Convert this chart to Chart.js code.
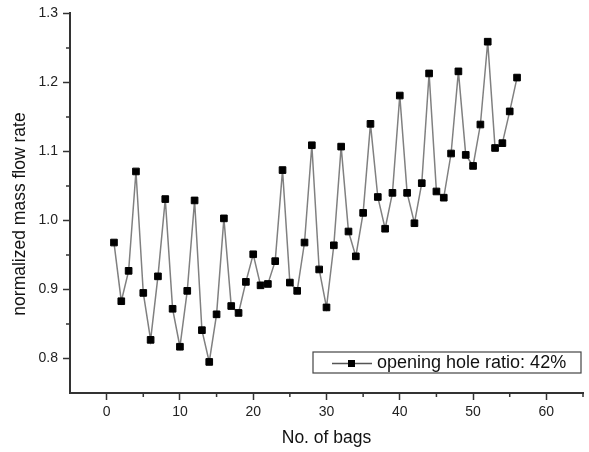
<!DOCTYPE html>
<html>
<head>
<meta charset="utf-8">
<script src="https://cdn.jsdelivr.net/npm/chart.js@4"></script>
<style>
  html, body { margin: 0; padding: 0; background: #fff; }
  #wrap { width: 589px; height: 452px; }
</style>
</head>
<body>
<div id="wrap"><canvas id="flow" width="589" height="452"></canvas></div>
<script>
// bag number and normalized mass flow rate
bags = [];
for (let i = 1; i <= 56; i++) bags.push(i);
flowRate = [
  0.968, 0.883, 0.927, 1.071, 0.895, 0.827, 0.919, 1.031, 0.872, 0.817,
  0.898, 1.029, 0.841, 0.795, 0.864, 1.003, 0.876, 0.866, 0.911, 0.951,
  0.906, 0.908, 0.941, 1.073, 0.910, 0.898, 0.968, 1.109, 0.929, 0.874,
  0.964, 1.107, 0.984, 0.948, 1.011, 1.140, 1.034, 0.988, 1.040, 1.181,
  1.040, 0.996, 1.054, 1.213, 1.042, 1.033, 1.097, 1.216, 1.095, 1.079,
  1.139, 1.259, 1.105, 1.112, 1.158, 1.207
];
seriesLabel = 'opening hole ratio: 42%';
yTitle = 'normalized mass flow rate';

points = bags.map((b, i) => ({x: b, y: flowRate[i]}));

const FONT = '"Liberation Sans", Arial, sans-serif';

function isMajorX(v) { return Math.abs(v % 10) < 1e-6; }
function isMajorY(v) { return Math.round(v * 100) % 10 === 0; }

// short minor ticks, y title and the boxed legend
const extras = {
  id: 'extras',
  afterDraw(chart) {
    const c = chart.ctx;
    const area = chart.chartArea;
    const xs = chart.scales.x, ys = chart.scales.y;
    c.save();
    c.strokeStyle = '#333';
    c.lineWidth = 1.5;
    c.beginPath();
    xs.ticks.forEach(t => {
      if (!isMajorX(t.value) && t.value > xs.min) {
        const px = xs.getPixelForValue(t.value);
        c.moveTo(px, area.bottom); c.lineTo(px, area.bottom + 4);
      }
    });
    ys.ticks.forEach(t => {
      if (!isMajorY(t.value) && t.value > ys.min) {
        const py = ys.getPixelForValue(t.value);
        c.moveTo(area.left, py); c.lineTo(area.left - 4, py);
      }
    });
    c.stroke();

    // y axis title
    c.save();
    c.translate(20, 214);
    c.rotate(-Math.PI / 2);
    c.font = '17.5px ' + FONT;
    c.fillStyle = '#111';
    c.textAlign = 'center';
    c.textBaseline = 'middle';
    c.fillText(yTitle, 0, 0);
    c.restore();

    // legend
    const x0 = 313, y0 = 352, w = 268, h = 21;
    c.strokeStyle = '#444';
    c.lineWidth = 1.2;
    c.strokeRect(x0, y0, w, h);
    const my = y0 + h / 2 + 1;
    c.strokeStyle = '#555';
    c.lineWidth = 1.3;
    c.beginPath();
    c.moveTo(x0 + 19, my); c.lineTo(x0 + 59, my);
    c.stroke();
    c.fillStyle = '#000';
    c.fillRect(x0 + 35, my - 3.5, 7, 7);
    c.font = '18px ' + FONT;
    c.fillStyle = '#111';
    c.textBaseline = 'middle';
    c.fillText(seriesLabel, x0 + 64, my);
    c.restore();
  }
};

var ctx = document.getElementById('flow').getContext('2d');
var flowChart = new Chart(ctx, {
  type: 'line',
  data: {
    datasets: [{
      label: seriesLabel,
      data: points,
      borderColor: '#808080',
      borderWidth: 1.5,
      pointStyle: 'rect',
      pointRadius: 4.7,
      pointBackgroundColor: '#000',
      pointBorderColor: '#000',
      pointBorderWidth: 1,
      tension: 0
    }]
  },
  plugins: [extras],
  options: {
    responsive: false,
    animation: false,
    layout: { padding: { top: 13, right: 6, left: 0, bottom: 0 } },
    plugins: {
      legend: { display: false },
      tooltip: { enabled: false }
    },
    scales: {
      x: {
        type: 'linear',
        min: -5,
        max: 65,
        afterFit: s => { s.height = 59; },
        ticks: {
          stepSize: 5,
          autoSkip: false,
          maxRotation: 0,
          color: '#222',
          padding: 4,
          font: { family: FONT, size: 14 },
          callback: v => (isMajorX(v) ? String(v) : '')
        },
        grid: {
          drawOnChartArea: false,
          drawTicks: true,
          tickLength: 7,
          tickColor: c => (c.tick && isMajorX(c.tick.value) ? '#333' : 'rgba(0,0,0,0)'),
          tickWidth: 1.5
        },
        border: { display: true, color: '#333', width: 2 },
        title: {
          display: true,
          text: 'No. of bags',
          color: '#111',
          font: { family: FONT, size: 17.5 },
          padding: { top: 4, bottom: 3 }
        }
      },
      y: {
        min: 0.75,
        max: 1.3,
        afterFit: s => { s.width = 70; },
        ticks: {
          stepSize: 0.05,
          autoSkip: false,
          color: '#222',
          padding: 5,
          font: { family: FONT, size: 14 },
          callback: v => (isMajorY(v) && v > 0.76 ? v.toFixed(1) : '')
        },
        grid: {
          drawOnChartArea: false,
          drawTicks: true,
          tickLength: 7,
          tickColor: c => (c.tick && isMajorY(c.tick.value) && c.tick.value > 0.76 ? '#333' : 'rgba(0,0,0,0)'),
          tickWidth: 1.5
        },
        border: { display: true, color: '#333', width: 2 },
        title: { display: false }
      }
    }
  }
});
</script>
</body>
</html>
